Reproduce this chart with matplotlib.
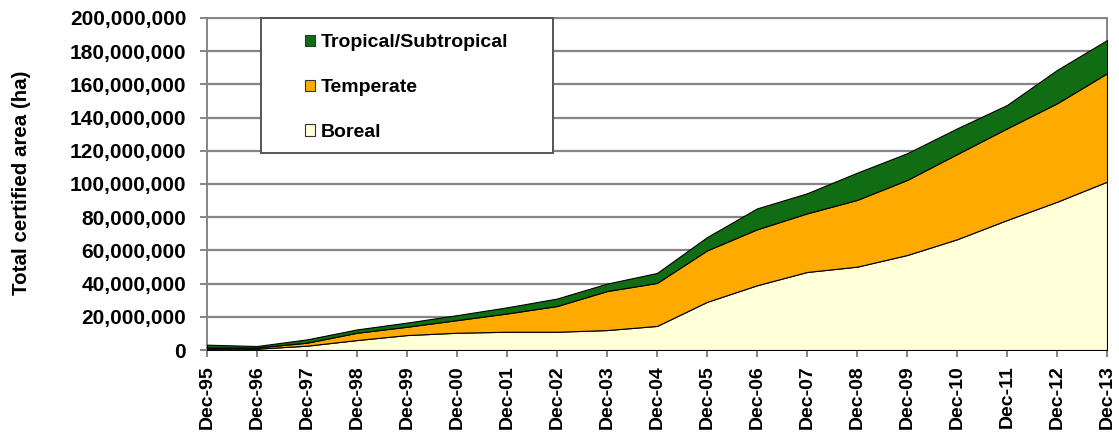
import numpy as np
import matplotlib
matplotlib.use("Agg")
import matplotlib.pyplot as plt
from matplotlib.ticker import FuncFormatter
from matplotlib.patches import Patch, Rectangle

plt.rcParams["font.family"] = ["Liberation Sans", "DejaVu Sans"]
plt.rcParams["font.weight"] = "bold"

# certified area per climate zone, million hectares (Dec of each year)
periods = ["Dec-95", "Dec-96", "Dec-97", "Dec-98", "Dec-99", "Dec-00", "Dec-01",
           "Dec-02", "Dec-03", "Dec-04", "Dec-05", "Dec-06", "Dec-07", "Dec-08",
           "Dec-09", "Dec-10", "Dec-11", "Dec-12", "Dec-13"]
boreal_mha = [0.8, 0.8, 2.6, 6.0, 9.0, 10.4, 11.0, 11.0, 12.0, 14.5,
              29.0, 39.0, 47.0, 50.2, 57.2, 66.7, 78.3, 89.3, 101.4]
temperate_mha = [0.7, 0.7, 1.8, 4.4, 5.0, 7.6, 11.0, 15.5, 23.5, 25.9,
                 31.0, 33.7, 35.3, 40.2, 45.2, 51.3, 55.2, 59.3, 65.3]
tropical_mha = [1.7, 0.9, 2.0, 2.0, 2.5, 3.0, 3.7, 4.5, 4.5, 6.0,
                8.0, 12.6, 12.1, 16.4, 16.1, 15.5, 14.1, 20.1, 20.0]

zone_names = ["Boreal", "Temperate", "Tropical/Subtropical"]
zone_colors = ["#ffffd8", "#ffaa00", "#106d14"]

GRID = "#858585"
W, H = 1119, 434


def main():
    x = np.arange(len(periods))
    layers = [np.array(v) * 1e6 for v in (boreal_mha, temperate_mha, tropical_mha)]

    fig = plt.figure(figsize=(W / 100, H / 100), dpi=100)
    ax = fig.add_axes([207 / W, 1 - 350 / H, 900 / W, 332 / H])

    ax.stackplot(x, *layers, colors=zone_colors, edgecolor="black",
                 linewidth=0.8, zorder=3)

    ax.set_xlim(0, len(periods) - 1)
    ax.set_ylim(0, 200e6)
    ax.set_yticks(np.arange(0, 200e6 + 1, 20e6))
    ax.yaxis.set_major_formatter(FuncFormatter(lambda v, _: f"{v:,.0f}"))
    ax.set_xticks(x)
    ax.set_xticklabels(periods, rotation=90)

    ax.grid(axis="y", color=GRID, linewidth=1.6, zorder=1)
    ax.set_axisbelow(True)
    for side in ("left", "right", "top", "bottom"):
        ax.spines[side].set_color(GRID)
        ax.spines[side].set_linewidth(1.4)

    ax.tick_params(axis="y", direction="out", length=5, width=1.4, color=GRID,
                   labelsize=15, pad=10)
    ax.tick_params(axis="x", direction="out", length=5, width=1.4, color=GRID,
                   labelsize=14, pad=6)
    for lab in ax.get_xticklabels() + ax.get_yticklabels():
        lab.set_fontweight("bold")

    ax.set_ylabel("Total certified area (ha)", fontsize=14.8, fontweight="bold")
    ax.yaxis.set_label_coords(-0.196, 0.505)

    # legend box drawn separately so the entries can sit inset from its edge
    box = Rectangle((53.7 / 900, 197.3 / 332), 292 / 900, 1 - 197.3 / 332,
                    transform=ax.transAxes, facecolor="white",
                    edgecolor="#555555", linewidth=1.4, zorder=4, clip_on=False)
    ax.add_patch(box)

    handles = [Patch(facecolor=c, edgecolor="#333333", linewidth=0.8)
               for c in zone_colors][::-1]
    leg = fig.legend(handles, zone_names[::-1], loc="center left",
                     bbox_to_anchor=(305 / W, 1 - 87.7 / H),
                     prop={"size": 14, "weight": "bold"}, frameon=False,
                     handlelength=0.52, handleheight=0.52, handletextpad=0.3,
                     labelspacing=1.43, borderpad=0.0, borderaxespad=0.0)
    leg.set_zorder(5)

    fig.savefig("out.png", dpi=100)
    plt.close(fig)


if __name__ == "__main__":
    main()
